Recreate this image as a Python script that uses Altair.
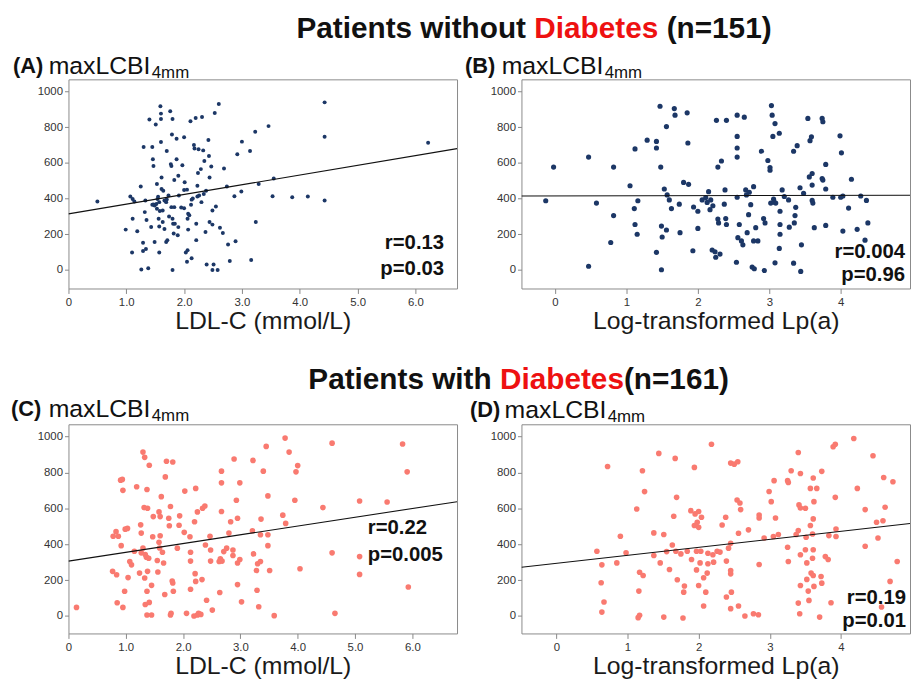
import altair as alt
import pandas as pd

FONT = "Liberation Sans"
NAVY = "#1c3766"
SALMON = "#f97a70"
RED = "#ee1111"

# ---------------- data ----------------
# (A) LDL-C vs maxLCBI4mm, patients without diabetes
a_x = [0.50, 0.99, 1.07, 1.11, 1.14, 1.11, 1.10, 1.19, 1.25, 1.26, 1.29, 1.29, 1.30, 1.32, 1.33,
       1.34, 1.38, 1.40, 1.43, 1.45, 1.46, 1.47, 1.47, 1.49, 1.49, 1.51, 1.53, 1.53, 1.54, 1.56,
       1.57, 1.57, 1.59, 1.60, 1.60, 1.60, 1.61, 1.61, 1.63, 1.63, 1.57, 1.64, 1.66, 1.69, 1.69,
       1.70, 1.71, 1.73, 1.76, 1.77, 1.78, 1.78, 1.79, 1.80, 1.80, 1.80, 1.81, 1.82, 1.83, 1.83,
       1.84, 1.87, 1.87, 1.89, 1.90, 1.91, 1.97, 2.00, 2.00, 2.00, 2.01, 2.03, 2.05, 2.06, 2.06,
       2.07, 2.09, 2.07, 2.11, 2.12, 2.13, 2.13, 2.17, 2.18, 2.20, 2.21, 2.21, 2.23, 2.23, 2.24,
       2.25, 2.26, 2.29, 2.30, 2.31, 2.33, 2.34, 2.37, 2.38, 2.39, 2.42, 2.43, 2.44, 2.44, 2.47,
       2.49, 2.49, 2.49, 2.51, 2.53, 2.55, 2.58, 2.60, 2.62, 2.67, 2.69, 2.74, 2.76, 2.79, 2.87,
       2.89, 2.92, 2.99, 3.00, 3.14, 3.16, 3.23, 3.24, 3.29, 3.46, 3.53, 3.55, 3.87, 4.14, 4.43,
       4.43, 4.43, 6.22, 1.52, 1.74, 1.95, 1.35, 1.66, 2.15, 1.58, 1.90, 2.35, 1.45, 1.70, 2.05,
       1.55]
a_y = [383, 226, 411, 398, 383, 287, 98, 217, 467, 2, 152, 106, 689, 324, 389,
       117, 9, 843, 241, 689, 620, 583, 367, 361, 157, 815, 481, 343, 398, 287,
       98, 244, 917, 876, 846, 717, 518, 454, 333, 269, 380, 444, 389, 380, 157,
       667, 167, 417, 889, 593, 583, 352, 759, 846, 0, 287, 259, 204, 504, 352,
       259, 620, 735, 194, 528, 417, 587, 744, 448, 346, 491, 98, 46, 287, 111,
       315, 306, 226, 833, 365, 65, 394, 700, 680, 852, 259, 167, 411, 472, 543,
       676, 417, 565, 380, 857, 670, 426, 213, 444, 31, 728, 639, 518, 269, 580,
       333, 254, 0, 31, 880, 356, 0, 930, 237, 207, 569, 467, 143, 50, 413,
       161, 648, 439, 719, 667, 56, 774, 269, 481, 806, 413, 513, 407, 411, 939,
       746, 389, 713, 370, 300, 350, 280, 230, 400, 330, 240, 610, 365, 395, 450,
       410]

# (B) Log-transformed Lp(a) vs maxLCBI4mm, patients without diabetes
b_x = [-0.13, -0.02, 0.47, 0.47, 0.58, 0.78, 0.82, 0.82, 1.05, 1.11, 1.12, 1.12, 1.15, 1.16, 1.29,
       1.42, 1.42, 1.42, 1.47, 1.48, 1.49, 1.49, 1.50, 1.53, 1.56, 1.56, 1.57, 1.60, 1.63, 1.67,
       1.68, 1.74, 1.75, 1.80, 1.85, 1.86, 1.87, 1.93, 1.94, 2.00, 2.00, 2.06, 2.11, 2.13, 2.15,
       2.17, 2.18, 2.21, 2.20, 2.24, 2.25, 2.26, 2.28, 2.28, 2.29, 2.31, 2.33, 2.37, 2.38, 2.39,
       2.40, 2.40, 2.54, 2.55, 2.55, 2.55, 2.55, 2.55, 2.56, 2.58, 2.61, 2.63, 2.65, 2.67, 2.68,
       2.69, 2.71, 2.72, 2.74, 2.76, 2.78, 2.78, 2.79, 2.81, 2.84, 2.89, 2.92, 2.93, 2.94, 2.98,
       3.01, 3.01, 3.02, 3.03, 3.04, 3.05, 3.06, 3.07, 3.08, 3.08, 3.09, 3.14, 3.14, 3.15, 3.15,
       3.15, 3.18, 3.21, 3.27, 3.28, 3.34, 3.34, 3.35, 3.36, 3.37, 3.39, 3.43, 3.44, 3.45, 3.48,
       3.54, 3.56, 3.57, 3.59, 3.60, 3.60, 3.60, 3.61, 3.63, 3.74, 3.75, 3.74, 3.75, 3.79, 3.79,
       3.79, 3.89, 3.99, 4.00, 4.01, 4.03, 4.03, 4.11, 4.15, 4.23, 4.28, 4.34, 4.36, 4.38]
b_y = [387, 576, 632, 20, 374, 153, 304, 576, 471, 343, 678, 254, 199, 387, 727,
       98, 720, 683, 917, 576, 245, 0, 184, 453, 223, 803, 420, 392, 343, 904,
       867, 368, 208, 490, 880, 711, 479, 107, 352, 328, 232, 392, 405, 378, 438,
       337, 392, 359, 111, 101, 70, 838, 576, 285, 263, 88, 610, 368, 448, 287,
       838, 254, 42, 867, 748, 683, 632, 407, 180, 254, 162, 140, 856, 448, 420,
       208, 309, 435, 365, 15, 162, 466, 6, 236, 162, 665, 287, -4, 263, 613,
       573, 558, 374, 921, 867, 748, 396, 379, 820, 39, 374, 766, 120, 328, 254,
       199, 448, 411, 392, 239, 665, 37, 263, 304, 350, 696, 460, -9, 140, 429,
       849, 521, 724, 746, 540, 475, 389, 374, 236, 849, 830, 512, 503, 591, 453,
       249, 407, 751, 407, 656, 414, 217, 346, 508, 227, 414, 166, 389, 263]

# (C) LDL-C vs maxLCBI4mm, patients with diabetes
c_x = [0.14, 0.77, 0.78, 0.83, 0.84, 0.85, 0.87, 0.91, 0.92, 0.94, 0.95, 0.95, 0.98, 0.99, 1.03,
       1.04, 1.07, 1.10, 1.15, 1.19, 1.24, 1.26, 1.27, 1.27, 1.30, 1.30, 1.32, 1.33, 1.33, 1.34,
       1.34, 1.36, 1.37, 1.37, 1.37, 1.38, 1.38, 1.40, 1.41, 1.41, 1.45, 1.45, 1.47, 1.48, 1.55,
       1.56, 1.58, 1.58, 1.59, 1.60, 1.60, 1.62, 1.64, 1.66, 1.68, 1.69, 1.71, 1.75, 1.76, 1.78,
       1.78, 1.79, 1.81, 1.82, 1.82, 1.83, 1.90, 1.93, 1.94, 2.02, 2.03, 2.06, 2.12, 2.13, 2.13,
       2.13, 2.20, 2.21, 2.22, 2.22, 2.25, 2.25, 2.27, 2.31, 2.19, 2.33, 2.34, 2.38, 2.39, 2.41,
       2.47, 2.48, 2.48, 2.51, 2.63, 2.64, 2.65, 2.67, 2.67, 2.67, 2.68, 2.71, 2.76, 2.80, 2.83,
       2.87, 2.87, 2.89, 2.93, 2.95, 2.95, 2.95, 2.99, 2.99, 3.02, 3.22, 3.21, 3.23, 3.28, 3.29,
       3.30, 3.32, 3.35, 3.35, 3.36, 3.40, 3.45, 3.48, 3.48, 3.48, 3.51, 3.59, 3.74, 3.78, 3.79,
       3.85, 3.95, 3.97, 4.00, 4.04, 4.44, 4.60, 4.60, 4.65, 5.08, 5.08, 5.08, 5.56, 5.83, 5.91,
       5.93]
c_y = [48, 249, 444, 470, 230, 74, 444, 757, 392, 761, 700, 48, 138, 484, 488,
       214, 304, 285, 361, 720, 239, 508, 462, 352, 913, 379, 604, 884, 212, 64,
       343, 328, 705, 138, 6, 600, 249, 322, 840, 76, 171, 6, 442, 554, 309,
       245, 580, 411, 379, 554, 447, 665, 355, 295, 120, 775, 862, 545, 503, 610,
       6, 15, 195, 184, 858, 138, 378, 506, 558, 466, 696, 15, 442, 355, 306,
       149, 525, 236, 711, 193, 580, 6, 15, 9, 0, 203, 600, 613, 396, 88,
       444, 368, 306, 33, 304, 131, 319, 807, 742, 582, 306, 359, 378, 462, 525,
       368, 337, 875, 645, 545, 295, 175, 315, 742, 79, 867, 475, 346, 254, 144,
       291, 52, 453, 304, 540, 807, 945, 453, 392, 669, 254, 2, 562, 991, 516,
       913, 645, 803, 838, 263, 604, 963, 352, 15, 641, 331, 232, 635, 958, 803,
       162]

# (D) Log-transformed Lp(a) vs maxLCBI4mm, patients with diabetes
d_x = [0.57, 0.63, 0.64, 0.64, 0.67, 0.72, 0.85, 0.90, 0.98, 1.13, 1.15, 1.16, 1.17, 1.17, 1.21,
       1.22, 1.24, 1.37, 1.37, 1.44, 1.46, 1.51, 1.51, 1.55, 1.59, 1.63, 1.65, 1.67, 1.68, 1.69,
       1.70, 1.75, 1.80, 1.79, 1.78, 1.84, 1.89, 1.90, 1.94, 1.94, 1.95, 1.97, 1.97, 1.98, 2.00,
       2.00, 2.00, 2.02, 2.03, 2.04, 2.07, 2.07, 2.10, 2.12, 2.13, 2.13, 2.18, 2.20, 2.21, 2.26,
       2.30, 2.33, 2.38, 2.39, 2.39, 2.42, 2.45, 2.45, 2.45, 2.45, 2.45, 2.46, 2.50, 2.54, 2.55,
       2.56, 2.56, 2.58, 2.59, 2.65, 2.70, 2.77, 2.84, 2.85, 2.85, 2.85, 2.92, 2.99, 3.02, 3.05,
       3.06, 3.08, 3.12, 3.25, 3.26, 3.25, 3.26, 3.30, 3.37, 3.40, 3.40, 3.41, 3.40, 3.42, 3.43,
       3.43, 3.43, 3.43, 3.50, 3.51, 3.50, 3.52, 3.52, 3.54, 3.55, 3.57, 3.57, 3.58, 3.60, 3.60,
       3.61, 3.61, 3.61, 3.61, 3.62, 3.62, 3.66, 3.70, 3.72, 3.73, 3.73, 3.78, 3.82, 3.83, 3.86,
       3.89, 3.92, 3.92, 3.93, 3.93, 4.18, 4.23, 4.34, 4.34, 4.45, 4.50, 4.52, 4.57, 4.59, 4.60,
       4.62, 4.69, 4.73, 4.79]
d_y = [361, 185, 285, 22, 78, 833, 296, 444, 352, 596, -9, 139, 4, 244, 809,
       226, 693, 463, 337, 906, 296, 454, -6, 359, 259, 396, 556, 878, 361, 661,
       202, 346, 167, 133, -11, 361, 587, 315, 504, 828, 569, 257, 361, 522, 582,
       494, 170, 296, 361, 550, 56, 213, 133, 239, 350, 291, 957, 341, 300, 361,
       356, 507, 550, 306, 106, 378, 852, 405, 254, 235, 41, 133, 846, 646, 859,
       461, 56, 630, 593, 0, 480, 13, 7, 563, 546, 287, 435, 694, 637, 443,
       754, 546, 454, 754, 744, 383, 304, 809, 454, 476, 911, 619, 72, 13, 341,
       602, 794, 170, 600, 439, 369, 296, 204, 139, 87, 504, 711, 239, 457, 322,
       369, 769, 226, 541, 637, 165, 711, -6, 220, 183, 806, 331, 315, 448, 74,
       943, 957, 661, 485, 443, 989, 711, 593, 389, 893, 522, 435, 50, 531, 772,
       606, 193, 748, 304]

# fitted regression lines (end points)
a_line_x = [0.0, 6.72]
a_line_y = [314, 680]
b_line_x = [-0.47, 4.97]
b_line_y = [414, 418]
c_line_x = [0.0, 6.78]
c_line_y = [306, 637]
d_line_x = [-0.49, 4.97]
d_line_y = [272, 515]

# texts
panel_tags = ["(A)", "(B)", "(C)", "(D)"]
y_label_main = "maxLCBI"
y_label_sub = "4mm"
x_titles = ["LDL-C (mmol/L)", "Log-transformed Lp(a)", "LDL-C (mmol/L)", "Log-transformed Lp(a)"]
r_texts = ["r=0.13", "r=0.004", "r=0.22", "r=0.19"]
p_texts = ["p=0.03", "p=0.96", "p=0.005", "p=0.01"]
title1_parts = ["Patients without", "Diabetes", "(n=151)"]
title2_parts = ["Patients with", "Diabetes", "(n=161)"]
y_ticks = [0, 200, 400, 600, 800, 1000]
ldl_ticks = [0, 1, 2, 3, 4, 5, 6]
lpa_ticks = [0, 1, 2, 3, 4]

W, H = 392, 211


def txt(s, x, y, size, color="#111111", weight="normal", align="left"):
    return alt.Chart(pd.DataFrame({"t": [s]})).mark_text(
        align=align, baseline="alphabetic", font=FONT, fontSize=size,
        fontWeight=weight, color=color
    ).encode(text="t:N", x=alt.value(x), y=alt.value(y))


def panel(xs, ys, lx, ly, color, size, xdom, ydom, xticks, ldl, idx, lab_off, ann, extra=None):
    if ldl:
        lexpr = "datum.value == 0 ? '0' : format(datum.value, '.1f')"
    else:
        lexpr = "format(datum.value, 'd')"
    xaxis = alt.Axis(values=xticks, labelExpr=lexpr, title=x_titles[idx], grid=False,
                     domain=False, tickSize=5, tickColor="#888888", labelPadding=3,
                     labelFontSize=11.5, labelColor="#333333", labelFont=FONT,
                     labelFlush=False, titleFont=FONT, titleFontSize=25,
                     titleFontWeight="normal", titleColor="#1a1a1a", titlePadding=1)
    yaxis = alt.Axis(values=y_ticks, format="d", title=None, grid=False, domain=False,
                     tickSize=4, tickColor="#888888", labelPadding=2, labelFontSize=11.5,
                     labelColor="#333333", labelFont=FONT, labelFlush=False)
    pts = alt.Chart(pd.DataFrame({"x": xs, "y": ys})).mark_circle(
        size=size, color=color, opacity=1
    ).encode(
        x=alt.X("x:Q", scale=alt.Scale(domain=xdom, nice=False, zero=False), axis=xaxis),
        y=alt.Y("y:Q", scale=alt.Scale(domain=ydom, nice=False, zero=False), axis=yaxis),
    )
    line = alt.Chart(pd.DataFrame({"x": lx, "y": ly})).mark_line(
        color="#111111", strokeWidth=1.1, clip=True
    ).encode(x="x:Q", y="y:Q")
    tag_x, main_x, sub_x, base_y = lab_off
    layers = [
        pts, line,
        txt(panel_tags[idx], tag_x, base_y - 1, 22, weight="bold"),
        txt(y_label_main, main_x, base_y, 25),
        txt(y_label_sub, sub_x, base_y + 4, 17),
    ]
    ax, ay1, ay2, aalign = ann
    layers.append(txt(r_texts[idx], ax, ay1, 20.5, weight="bold", align=aalign))
    layers.append(txt(p_texts[idx], ax, ay2, 20.5, weight="bold", align=aalign))
    if extra is not None:
        layers += extra
    return alt.layer(*layers).properties(width=W, height=H)


# title segments: bold 30px, positions follow the text widths
title1 = [
    txt(title1_parts[0], 230, -42, 30, weight="bold"),
    txt(title1_parts[1], 470, -42, 30, color=RED, weight="bold"),
    txt(title1_parts[2], 603.5, -42, 30, weight="bold"),
]
title2 = [
    txt(title2_parts[0], 242, -36, 30, weight="bold"),
    txt(title2_parts[1], 435.4, -36, 30, color=RED, weight="bold"),
    txt(title2_parts[2], 560.4, -36, 30, weight="bold"),
]

pA = panel(a_x, a_y, a_line_x, a_line_y, NAVY, 16, [0, 6.72], [-104, 1068], ldl_ticks, True, 0,
           (-56, -20, 84, -5), (379, 171, 197, "right"), extra=title1)
pB = panel(b_x, b_y, b_line_x, b_line_y, NAVY, 27, [-0.47, 4.97], [-105, 1068], lpa_ticks, False, 1,
           (-57, -20, 84, -5), (387, 180, 203, "right"))
pC = panel(c_x, c_y, c_line_x, c_line_y, SALMON, 32, [0, 6.78], [-97, 1068], ldl_ticks, True, 2,
           (-58, -20, 84, -7), (302, 111, 138, "left"), extra=title2)
pD = panel(d_x, d_y, d_line_x, d_line_y, SALMON, 32, [-0.49, 4.97], [-97, 1068], lpa_ticks, False, 3,
           (-52, -17, 87, -6), (388, 181, 205, "right"))

chart = alt.concat(pA, pB, pC, pD, columns=2, spacing={"row": 137, "column": 65}).properties(
    bounds="flush", padding={"left": 2, "top": 2, "right": 0, "bottom": 0}
).configure_view(stroke="#8a8a8a", strokeWidth=1)

chart.save("out.html", embed_options={"renderer": "svg", "actions": False})
